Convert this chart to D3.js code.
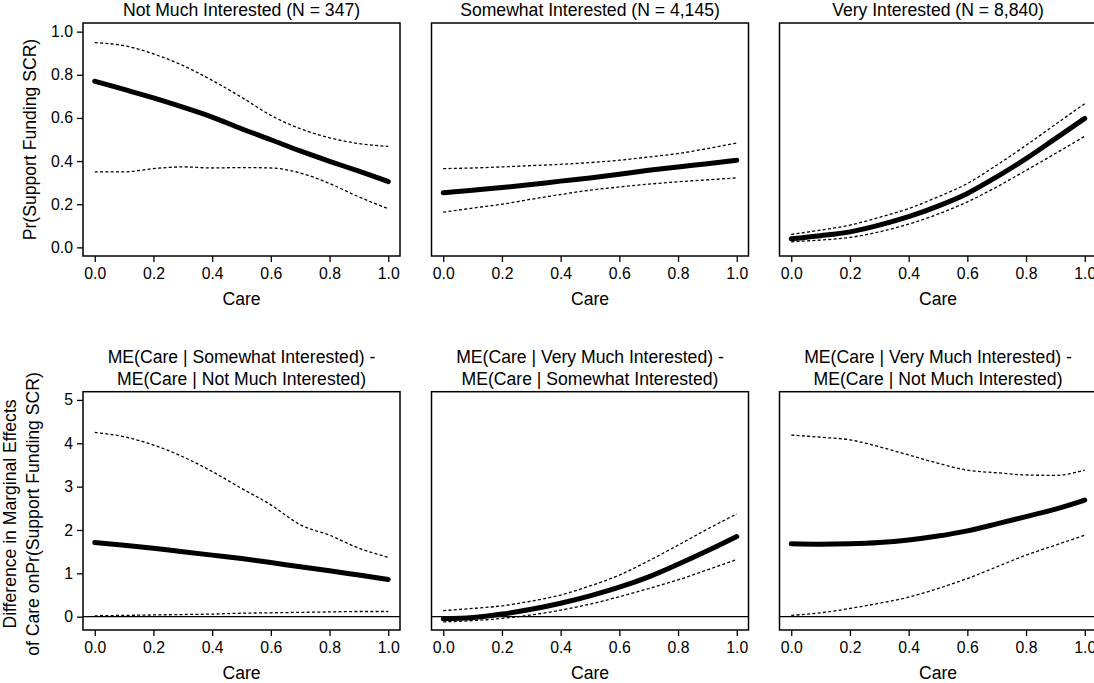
<!DOCTYPE html>
<html>
<head>
<meta charset="utf-8">
<script src="https://cdn.jsdelivr.net/npm/d3@7"></script>
<style>
    body { margin: 0; background: #fff; }
    svg { display: block; font-family: "Liberation Sans", Arial, sans-serif; }
</style>
</head>
<body>
<svg></svg>
<script>
const width = 1094;
const height = 683;

// x values (Care)
const care = [0, 0.1, 0.2, 0.3, 0.4, 0.5, 0.6, 0.7, 0.8, 0.9, 1.0];

// top row: predicted probabilities with bounds
const notMuchFit = [0.770, 0.732, 0.693, 0.650, 0.604, 0.550, 0.499, 0.447, 0.399, 0.353, 0.305];
const notMuchHi = [0.949, 0.935, 0.897, 0.843, 0.774, 0.696, 0.612, 0.550, 0.508, 0.481, 0.468];
const notMuchLo = [0.350, 0.350, 0.365, 0.373, 0.368, 0.370, 0.368, 0.345, 0.296, 0.234, 0.179];

const somewhatFit = [0.253, 0.265, 0.277, 0.291, 0.307, 0.322, 0.339, 0.357, 0.373, 0.388, 0.404];
const somewhatHi = [0.365, 0.368, 0.373, 0.379, 0.385, 0.393, 0.404, 0.419, 0.435, 0.458, 0.484];
const somewhatLo = [0.163, 0.182, 0.200, 0.223, 0.245, 0.265, 0.280, 0.293, 0.304, 0.313, 0.322];

const veryFit = [0.040, 0.054, 0.072, 0.103, 0.142, 0.191, 0.250, 0.327, 0.411, 0.504, 0.598];
const veryHi = [0.060, 0.080, 0.103, 0.139, 0.180, 0.234, 0.296, 0.381, 0.473, 0.570, 0.666];
const veryLo = [0.026, 0.034, 0.046, 0.072, 0.108, 0.154, 0.211, 0.280, 0.357, 0.435, 0.515];

// bottom row: differences in marginal effects
const diff1Fit = [1.71, 1.65, 1.58, 1.50, 1.42, 1.34, 1.25, 1.15, 1.06, 0.96, 0.86];
const diff1Hi = [4.25, 4.15, 3.96, 3.69, 3.35, 2.96, 2.58, 2.12, 1.88, 1.58, 1.37];
const diff1Lo = [0.02, 0.03, 0.04, 0.05, 0.06, 0.08, 0.09, 0.10, 0.11, 0.12, 0.12];

const diff2Fit = [-0.05, -0.02, 0.06, 0.17, 0.31, 0.48, 0.68, 0.92, 1.21, 1.52, 1.85];
const diff2Hi = [0.14, 0.19, 0.25, 0.36, 0.50, 0.71, 0.96, 1.29, 1.65, 2.02, 2.37];
const diff2Lo = [-0.12, -0.09, -0.04, 0.04, 0.15, 0.29, 0.46, 0.65, 0.85, 1.08, 1.32];

const diff3Fit = [1.68, 1.67, 1.68, 1.71, 1.77, 1.86, 1.98, 2.14, 2.31, 2.48, 2.69];
const diff3Hi = [4.19, 4.14, 4.08, 3.92, 3.73, 3.54, 3.38, 3.32, 3.27, 3.26, 3.38];
const diff3Lo = [0.03, 0.09, 0.19, 0.31, 0.45, 0.65, 0.88, 1.15, 1.42, 1.65, 1.88];

const topTitles = ["Not Much Interested (N = 347)", "Somewhat Interested (N = 4,145)", "Very Interested (N = 8,840)"];
const bottomTitles = [
    ["ME(Care | Somewhat Interested) -", "ME(Care | Not Much Interested)"],
    ["ME(Care | Very Much Interested) -", "ME(Care | Somewhat Interested)"],
    ["ME(Care | Very Much Interested) -", "ME(Care | Not Much Interested)"]
];
const xTicks = [0, 0.2, 0.4, 0.6, 0.8, 1.0];
const probTicks = [0, 0.2, 0.4, 0.6, 0.8, 1.0];
const diffTicks = [0, 1, 2, 3, 4, 5];

const colLeft = [83, 431.5, 779.5];
const panelW = 317;
const tickFont = "15.8px";
const labelFont = "17.6px";

let svg = d3.select("svg")
    .attr("width", width)
    .attr("height", height);

const rows = [
    {
        top: 23, bottom: 256, domain: [-0.04, 1.04], ticks: probTicks, fmt: d3.format(".1f"),
        zeroLine: false, titles: topTitles.map(t => [t]),
        series: [[notMuchFit, notMuchLo, notMuchHi], [somewhatFit, somewhatLo, somewhatHi], [veryFit, veryLo, veryHi]]
    },
    {
        top: 391.7, bottom: 630, domain: [-0.307, 5.19], ticks: diffTicks, fmt: d3.format("d"),
        zeroLine: true, titles: bottomTitles,
        series: [[diff1Fit, diff1Lo, diff1Hi], [diff2Fit, diff2Lo, diff2Hi], [diff3Fit, diff3Lo, diff3Hi]]
    }
];

rows.forEach((row, r) => {
    let scY = d3.scaleLinear().domain(row.domain).range([row.bottom, row.top]);
    colLeft.forEach((left, c) => {
        let scX = d3.scaleLinear().domain([-0.04, 1.04]).range([left, left + panelW]);
        let g = svg.append("g");

        // bottom axis
        let ax = g.append("g")
            .attr("transform", `translate(0, ${row.bottom})`)
            .call(d3.axisBottom(scX).tickValues(xTicks).tickFormat(d3.format(".1f"))
                .tickSize(6).tickSizeOuter(0).tickPadding(6));
        ax.select(".domain").remove();
        ax.selectAll("line").attr("stroke", "#000").attr("stroke-width", 1.3);
        ax.selectAll("text").style("font-size", tickFont).attr("fill", "#000");

        // left axis only in first column
        if (c === 0) {
            let ay = g.append("g")
                .attr("transform", `translate(${left}, 0)`)
                .call(d3.axisLeft(scY).tickValues(row.ticks).tickFormat(row.fmt)
                    .tickSize(6).tickSizeOuter(0).tickPadding(4));
            ay.select(".domain").remove();
            ay.selectAll("line").attr("stroke", "#000").attr("stroke-width", 1.3);
            ay.selectAll("text").style("font-size", tickFont).attr("fill", "#000");
        }

        // horizontal reference line at 0
        if (row.zeroLine) {
            g.append("line")
                .attr("x1", left).attr("x2", left + panelW)
                .attr("y1", scY(0)).attr("y2", scY(0))
                .attr("stroke", "#000").attr("stroke-width", 1.3);
        }

        let [fit, lo, hi] = row.series[c];
        let line = d3.line()
            .x((d, i) => scX(care[i]))
            .y(d => scY(d))
            .curve(d3.curveMonotoneX);

        [lo, hi].forEach(arr => {
            g.append("path")
                .attr("d", line(arr))
                .attr("fill", "none")
                .attr("stroke", "#000")
                .attr("stroke-width", 1.3)
                .attr("stroke-dasharray", "3,2.3");
        });
        g.append("path")
            .attr("d", line(fit))
            .attr("fill", "none")
            .attr("stroke", "#000")
            .attr("stroke-width", 5)
            .attr("stroke-linecap", "round")
            .attr("stroke-linejoin", "round");

        // panel box
        g.append("rect")
            .attr("x", left).attr("y", row.top)
            .attr("width", panelW).attr("height", row.bottom - row.top)
            .attr("fill", "none").attr("stroke", "#000").attr("stroke-width", 1.5);

        // panel title
        let lines = row.titles[c];
        lines.forEach((t, k) => {
            g.append("text")
                .attr("x", left + panelW / 2)
                .attr("y", row.top - 7 - (lines.length - 1 - k) * 22)
                .attr("text-anchor", "middle")
                .style("font-size", labelFont)
                .text(t);
        });

        // x label
        g.append("text")
            .attr("x", left + panelW / 2)
            .attr("y", row.bottom + 49)
            .attr("text-anchor", "middle")
            .style("font-size", labelFont)
            .text("Care");
    });
});

// y labels
svg.append("text")
    .attr("transform", `translate(35.5, 139.5) rotate(-90)`)
    .attr("text-anchor", "middle")
    .style("font-size", labelFont)
    .text("Pr(Support Funding SCR)");

const diffLabel = ["Difference in Marginal Effects", "of Care onPr(Support Funding SCR)"];
diffLabel.forEach((t, k) => {
    svg.append("text")
        .attr("transform", `translate(${15.5 + k * 23}, 514) rotate(-90)`)
        .attr("text-anchor", "middle")
        .style("font-size", labelFont)
        .text(t);
});
</script>
</body>
</html>
